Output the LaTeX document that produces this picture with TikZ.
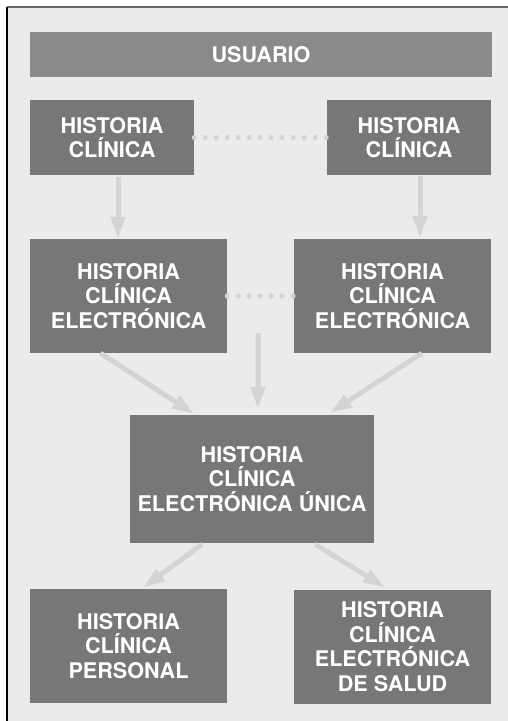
\documentclass[tikz,border=0pt]{standalone}
\usepackage{fontspec}
\setmainfont{TeX Gyre Heros}
\usepackage{tikz}
\usetikzlibrary{arrows.meta,positioning,calc}
\definecolor{paper}{HTML}{EBEBEB}
\definecolor{boxgray}{HTML}{777777}
\definecolor{usergray}{HTML}{8A8A8A}
\definecolor{linkgray}{HTML}{D4D4D4}
\definecolor{topline}{HTML}{666666}

\begin{document}
\begin{tikzpicture}[x=1bp,y=-1bp,
  box/.style={fill=boxgray,inner sep=0pt,align=center,text=white,
    font=\fontsize{21.6bp}{24.5bp}\selectfont\bfseries},
  userbox/.style={box,fill=usergray},
  arrow/.style={-{Triangle[length=22bp,width=14bp]},line width=5bp,draw=linkgray},
  dots/.style={draw=linkgray,line width=5bp,line cap=round,dash pattern=on 0pt off 11bp}
]
\useasboundingbox (0,0) rectangle (508,721);
\fill[paper] (7,7) rectangle (508,721);
\draw[topline,line width=1.5bp] (7,7) -- (508,7);
\draw[black,line width=1.5bp] (7,7) -- (7,721);
\node[userbox,minimum width=462bp,minimum height=45bp] (user) at (261,54.5) {USUARIO};
\node[box,minimum width=164bp,minimum height=75bp] (hcA) at (112,137.5) {HISTORIA\\CLÍNICA};
\node[box,minimum width=164bp,minimum height=75bp] (hcB) at (409,137.5) {HISTORIA\\CLÍNICA};
\node[box,minimum width=197bp,minimum height=114bp] (hceA) at (128.5,296) {HISTORIA\\CLÍNICA\\ELECTRÓNICA};
\node[box,minimum width=197bp,minimum height=114bp] (hceB) at (392.5,296) {HISTORIA\\CLÍNICA\\ELECTRÓNICA};
\node[box,minimum width=244bp,minimum height=128bp] (hceu) at (252,479) {HISTORIA\\CLÍNICA\\ELECTRÓNICA ÚNICA};
\node[box,minimum width=197bp,minimum height=114bp] (hcp) at (128.5,646) {HISTORIA\\CLÍNICA\\PERSONAL};
\node[box,minimum width=197bp,minimum height=114bp] (hces) at (392.5,646.5) {HISTORIA\\CLÍNICA\\ELECTRÓNICA\\DE SALUD};
\coordinate (mid) at (258,333);
% links between the two sides
\draw[dots] (hcA.east) -- (hcB.west);
\draw[dots] (hceA.east) -- (hceB.west);
% flows
\draw[arrow] ([xshift=6bp,yshift=-2bp]hcA.south) -- ([xshift=6bp]hcA.south |- hceA.north);
\draw[arrow] ([xshift=11bp,yshift=-1bp]hcB.south) -- ([xshift=11bp,yshift=1bp]hcB.south |- hceB.north);
\draw[arrow] ([xshift=-28bp]hceA.south) -- ([xshift=-58bp,yshift=1bp]hceu.north);
\draw[arrow] (mid) -- ([xshift=6bp,yshift=6bp]hceu.north);
\draw[arrow] ([xshift=29.5bp]hceB.south) -- ([xshift=78bp,yshift=2bp]hceu.north);
\draw[arrow] ([xshift=-50bp,yshift=-1bp]hceu.south) -- ([xshift=14.5bp,yshift=1bp]hcp.north);
\draw[arrow] ([xshift=63bp,yshift=-1bp]hceu.south) -- ([xshift=-7.5bp,yshift=2bp]hces.north);
\end{tikzpicture}
\end{document}
